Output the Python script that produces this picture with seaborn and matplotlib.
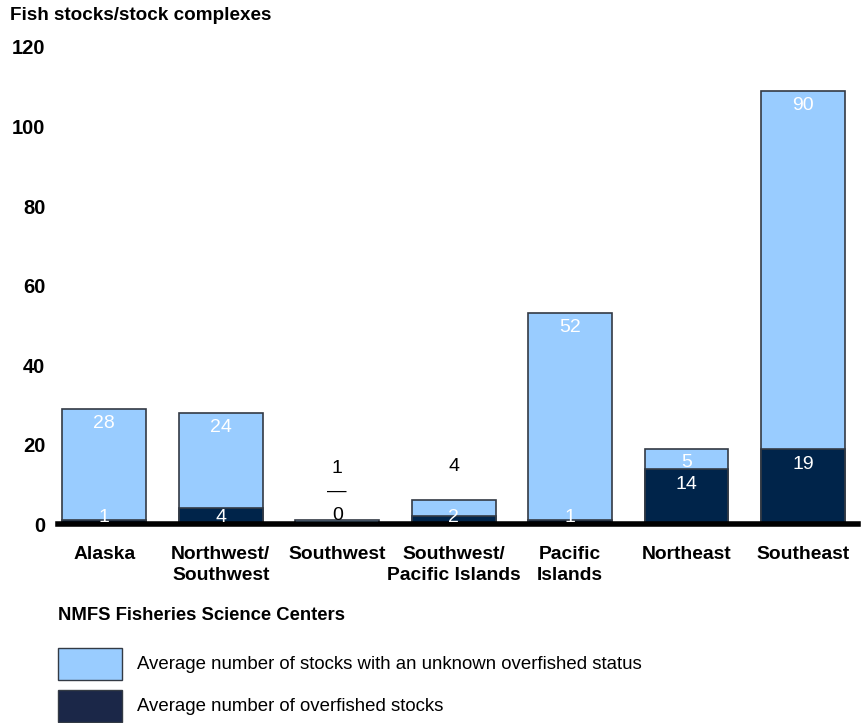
import matplotlib
matplotlib.use("Agg")
import matplotlib.pyplot as plt
import seaborn as sns
import pandas as pd
from matplotlib.patches import Rectangle

centers = ["Alaska", "Northwest/\nSouthwest", "Southwest", "Southwest/\nPacific Islands",
           "Pacific\nIslands", "Northeast", "Southeast"]
overfished = [1, 4, 0, 2, 1, 14, 19]
unknown = [28, 24, 1, 4, 52, 5, 90]

LIGHT = "#99CCFF"
DARK = "#00244A"
LEGEND_DARK = "#1B2748"
EDGE = "#333A44"

df = pd.DataFrame({"center": centers, "overfished": overfished, "unknown": unknown})
df["total"] = df["overfished"] + df["unknown"]

sns.set_style("white")
plt.rcParams["font.family"] = ["Liberation Sans", "DejaVu Sans"]
plt.rcParams["text.color"] = "black"
plt.rcParams["xtick.color"] = "black"
plt.rcParams["ytick.color"] = "black"

fig = plt.figure(figsize=(8.62, 7.23), dpi=100)
ax = fig.add_axes([0.067, 0.275, 0.928, 0.66])

sns.barplot(data=df, x="center", y="total", color=LIGHT, width=0.72,
            edgecolor=EDGE, linewidth=1.2, saturation=1, ax=ax)
sns.barplot(data=df, x="center", y="overfished", color=DARK, width=0.72,
            edgecolor=EDGE, linewidth=1.2, saturation=1, ax=ax)

# value labels
VAL_FS = 14
for i, row in df.iterrows():
    top = row["total"]
    ov = row["overfished"]
    un = row["unknown"]
    if row["center"] == "Southwest":
        ax.text(i, 14, str(un), ha="center", va="center", fontsize=VAL_FS, color="black")
        ax.text(i, 8.2, "\u2014", ha="center", va="center", fontsize=VAL_FS, color="black")
        ax.text(i, 2.1, str(ov), ha="center", va="center", fontsize=VAL_FS, color="black")
        continue
    if un < 5:
        ax.text(i, top + 8.5, str(un), ha="center", va="center", fontsize=VAL_FS, color="black")
    else:
        ax.text(i, top - 3.6, str(un), ha="center", va="center", fontsize=VAL_FS, color="white")
    ax.text(i, max(ov - 4.0, 1.6), str(ov), ha="center", va="center", fontsize=VAL_FS, color="white")

ax.set_ylim(0, 120)
ax.set_xlim(-0.4, 6.47)
ax.set_yticks(range(0, 121, 20))
ax.set_xlabel("")
ax.set_ylabel("")
for s in ["top", "right", "left"]:
    ax.spines[s].set_visible(False)
ax.spines["bottom"].set_linewidth(4)
ax.spines["bottom"].set_color("black")
ax.tick_params(axis="both", length=0)
ax.tick_params(axis="y", pad=9, labelsize=14.5)
ax.tick_params(axis="x", pad=16, labelsize=13.9)
for lab in ax.get_yticklabels():
    lab.set_fontweight("bold")
for lab in ax.get_xticklabels():
    lab.set_fontweight("bold")
    lab.set_linespacing(1.3)

fig.text(0.012, 0.978, "Fish stocks/stock complexes", fontsize=13.6, fontweight="bold",
         ha="left", va="center")

# legend
fig.text(0.067, 0.149, "NMFS Fisheries Science Centers", fontsize=13.3, fontweight="bold",
         ha="left", va="center")
legend_items = [("Average number of stocks with an unknown overfished status", LIGHT, 0.0595, 0.0816),
                ("Average number of overfished stocks", LEGEND_DARK, 0.0014, 0.0235)]
for label, col, y0, ty in legend_items:
    fig.add_artist(Rectangle((0.0673, y0), 0.0742, 0.0443, transform=fig.transFigure,
                             facecolor=col, edgecolor=EDGE, linewidth=1.0))
    fig.text(0.159, ty, label, fontsize=13.4, ha="left", va="center")

fig.savefig("out.png", dpi=100)
